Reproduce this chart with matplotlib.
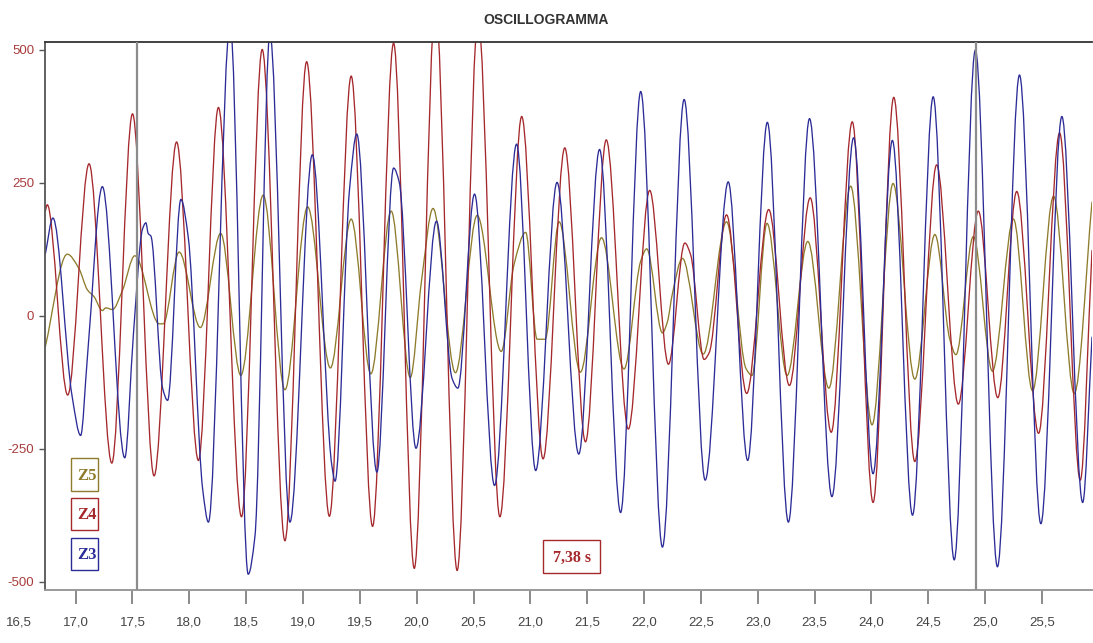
import numpy as np
import matplotlib
matplotlib.use("Agg")
import matplotlib.pyplot as plt
from matplotlib.path import Path
from matplotlib.patches import PathPatch, Rectangle

# ---------------- data ----------------
title = "OSCILLOGRAMMA"
series_names = ["Z5", "Z4", "Z3"]

z3_t = [16.733, 16.800, 16.968, 17.044, 17.103, 17.235, 17.432, 17.509, 17.588, 17.618,
        17.638, 17.662, 17.765, 17.809, 17.926, 17.991, 18.118, 18.168, 18.359, 18.518,
        18.577, 18.709, 18.885, 19.082, 19.253, 19.282, 19.409, 19.473, 19.650, 19.797,
        19.847, 19.994, 20.174, 20.312, 20.362, 20.509, 20.685, 20.879, 21.047, 21.235,
        21.426, 21.609, 21.794, 21.971, 22.162, 22.353, 22.538, 22.741, 22.912, 23.085,
        23.270, 23.456, 23.653, 23.844, 24.015, 24.185, 24.362, 24.544, 24.729, 24.915,
        25.109, 25.303, 25.491, 25.676, 25.859, 25.941]
z3_v = [116, 184, -150, -225, -79, 243, -267, -32, 163, 175,
        155, 150, -136, -159, 219, 147, -327, -388, 550, -486,
        -415, 530, -388, 303, -280, -311, 237, 342, -294, 278,
        251, -249, 178, -118, -136, 229, -319, 323, -291, 251,
        -260, 313, -370, 422, -435, 407, -309, 252, -272, 364,
        -388, 371, -340, 335, -297, 330, -375, 412, -459, 500,
        -472, 453, -391, 375, -351, -40]

z4_t = [16.733, 16.750, 16.930, 17.118, 17.318, 17.500, 17.690, 17.888, 18.080, 18.256,
        18.459, 18.641, 18.841, 19.032, 19.232, 19.424, 19.612, 19.797, 19.979, 20.165,
        20.356, 20.540, 20.732, 20.924, 21.112, 21.303, 21.485, 21.668, 21.862, 22.050,
        22.215, 22.359, 22.410, 22.529, 22.574, 22.726, 22.903, 23.097, 23.279, 23.462,
        23.647, 23.832, 24.015, 24.197, 24.382, 24.574, 24.765, 24.941, 25.112, 25.279,
        25.471, 25.656, 25.838, 25.941]
z4_v = [197, 209, -149, 286, -277, 380, -301, 327, -272, 392,
        -378, 501, -423, 478, -377, 451, -396, 513, -475, 585,
        -479, 560, -378, 375, -269, 316, -237, 331, -213, 236,
        -91, 137, 115, -82, -69, 190, -146, 200, -131, 222,
        -219, 365, -351, 411, -274, 284, -166, 197, -154, 234,
        -221, 344, -309, 123]

z5_t = [16.733, 16.926, 17.029, 17.103, 17.162, 17.235, 17.265, 17.324, 17.412, 17.520,
        17.735, 17.770, 17.910, 18.097, 18.276, 18.453, 18.650, 18.841, 19.041, 19.241,
        19.424, 19.597, 19.776, 19.944, 20.041, 20.144, 20.341, 20.532, 20.744, 20.856,
        20.959, 21.060, 21.130, 21.253, 21.440, 21.626, 21.824, 21.971, 22.024, 22.162,
        22.206, 22.250, 22.338, 22.521, 22.726, 22.897, 22.950, 23.082, 23.259, 23.441,
        23.626, 23.818, 24.006, 24.191, 24.382, 24.559, 24.691, 24.744, 24.897, 25.065,
        25.250, 25.418, 25.603, 25.785, 25.941]
z5_v = [-58, 116, 89, 49, 36, 10, 15, 12, 48, 113,
        -15, -15, 120, -22, 155, -112, 227, -139, 205, -98,
        182, -109, 197, -116, 63, 202, -107, 189, -67, 96,
        157, -44, -44, 177, -106, 147, -100, 103, 126, -32,
        -11, 42, 108, -72, 177, -99, -112, 174, -112, 140,
        -136, 244, -205, 249, -119, 153, -45, -73, 149, -104,
        182, -141, 225, -146, 214]

cursor_times = [17.538, 24.920]
cursor_label = "7,38 s"

x_ticks = [17.0, 17.5, 18.0, 18.5, 19.0, 19.5, 20.0, 20.5, 21.0, 21.5,
           22.0, 22.5, 23.0, 23.5, 24.0, 24.5, 25.0, 25.5]
x_first_label = "16,5"
y_ticks = [-500, -250, 0, 250, 500]
x_limits = (16.733, 25.941)
y_limits = (-515.6, 515.6)

# ---------------- style ----------------
C_Z3 = "#2c2c98"
C_Z4 = "#a5282c"
C_Z5 = "#8e7c2c"
C_YLAB = "#a83c3c"
C_XLAB = "#444444"

W, H = 1093, 643
plt.rcParams["font.family"] = ["Liberation Sans", "DejaVu Sans"]


def smooth_path(t, v):
    """Monotone cubic Bezier path through the read points (drawn by matplotlib)."""
    t = np.asarray(t, float)
    v = np.asarray(v, float)
    h = np.diff(t)
    d = np.diff(v) / h
    n = len(t)
    m = np.zeros(n)
    for k in range(1, n - 1):
        if d[k - 1] * d[k] > 0:
            w1 = 2 * h[k] + h[k - 1]
            w2 = h[k] + 2 * h[k - 1]
            m[k] = (w1 + w2) / (w1 / d[k - 1] + w2 / d[k])
    m[0] = d[0]
    m[-1] = d[-1]
    verts = [(t[0], v[0])]
    codes = [Path.MOVETO]
    for k in range(n - 1):
        verts += [(t[k] + h[k] / 3, v[k] + m[k] * h[k] / 3),
                  (t[k + 1] - h[k] / 3, v[k + 1] - m[k + 1] * h[k] / 3),
                  (t[k + 1], v[k + 1])]
        codes += [Path.CURVE4] * 3
    return Path(verts, codes)


def px(x, y):
    return x / W, 1 - y / H


fig = plt.figure(figsize=(W / 100, H / 100), dpi=100)
ax_l, ax_r, ax_t, ax_b = 45.3, 1092, 41.7, 590
ax = fig.add_axes([ax_l / W, 1 - ax_b / H, (ax_r - ax_l) / W, (ax_b - ax_t) / H])

for tt, vv, col in [(z5_t, z5_v, C_Z5), (z4_t, z4_v, C_Z4), (z3_t, z3_v, C_Z3)]:
    ax.add_patch(PathPatch(smooth_path(tt, vv), fill=False, edgecolor=col, lw=0.95,
                           capstyle="round", joinstyle="round"))

for ct in cursor_times:
    ax.axvline(ct, color="#8c8c8c", lw=1.6, zorder=5)

ax.set_xlim(*x_limits)
ax.set_ylim(*y_limits)

ax.set_xticks(x_ticks)
ax.set_xticklabels([f"{x:.1f}".replace(".", ",") for x in x_ticks])
ax.set_yticks(y_ticks)
ax.set_yticklabels([str(y) for y in y_ticks])

ax.tick_params(axis="x", length=10, width=1.4, color="#8a8a8a", labelcolor=C_XLAB,
               labelsize=9.5, pad=9)
ax.tick_params(axis="y", length=4, width=1.0, color="#555555", labelcolor=C_YLAB,
               labelsize=9.5, pad=4)

ax.spines["right"].set_visible(False)
ax.spines["top"].set_color("#333333")
ax.spines["top"].set_linewidth(1.3)
ax.spines["left"].set_color("#555555")
ax.spines["left"].set_linewidth(1.3)
ax.spines["bottom"].set_color("#9a9a9a")
ax.spines["bottom"].set_linewidth(1.4)

# first x label sits outside the visible range: same baseline as the tick labels
fig.canvas.draw()
ref_lab = ax.get_xticklabels()[0]
bb = ref_lab.get_window_extent()
fig.text(19 / W, bb.y0 / H, x_first_label, ha="center", va="bottom", fontsize=9.5,
         color=C_XLAB)

fig.text(*px(546.5, 20), title, ha="center", va="center", fontsize=10,
         fontweight="bold", color="#333333")

# legend boxes
boxes = [("Z5", C_Z5, 458.3, 490.7), ("Z4", C_Z4, 498.3, 530.0), ("Z3", C_Z3, 538.3, 570.0)]
for name, col, y0, y1 in boxes:
    x0, y_bot = px(70.7, y1)
    fig.add_artist(Rectangle((x0, y_bot), 27.6 / W, (y1 - y0) / H, transform=fig.transFigure,
                             fill=False, edgecolor=col, lw=1.0))
    fig.text(*px(77.5, (y0 + y1) / 2 + 1), name, ha="left", va="center", fontsize=12,
             fontweight="bold", color=col, family=["Liberation Serif", "DejaVu Serif"])

# cursor label box
bx0, bx1, by0, by1 = 543.3, 600.0, 540.0, 573.3
fig.add_artist(Rectangle(px(bx0, by1), (bx1 - bx0) / W, (by1 - by0) / H,
                         transform=fig.transFigure, fill=False, edgecolor=C_Z4, lw=1.0))
fig.text(*px((bx0 + bx1) / 2, (by0 + by1) / 2 + 1), cursor_label, ha="center", va="center",
         fontsize=11.5, fontweight="bold", color=C_Z4, family=["Liberation Serif", "DejaVu Serif"])

fig.savefig("out.png", dpi=100)
